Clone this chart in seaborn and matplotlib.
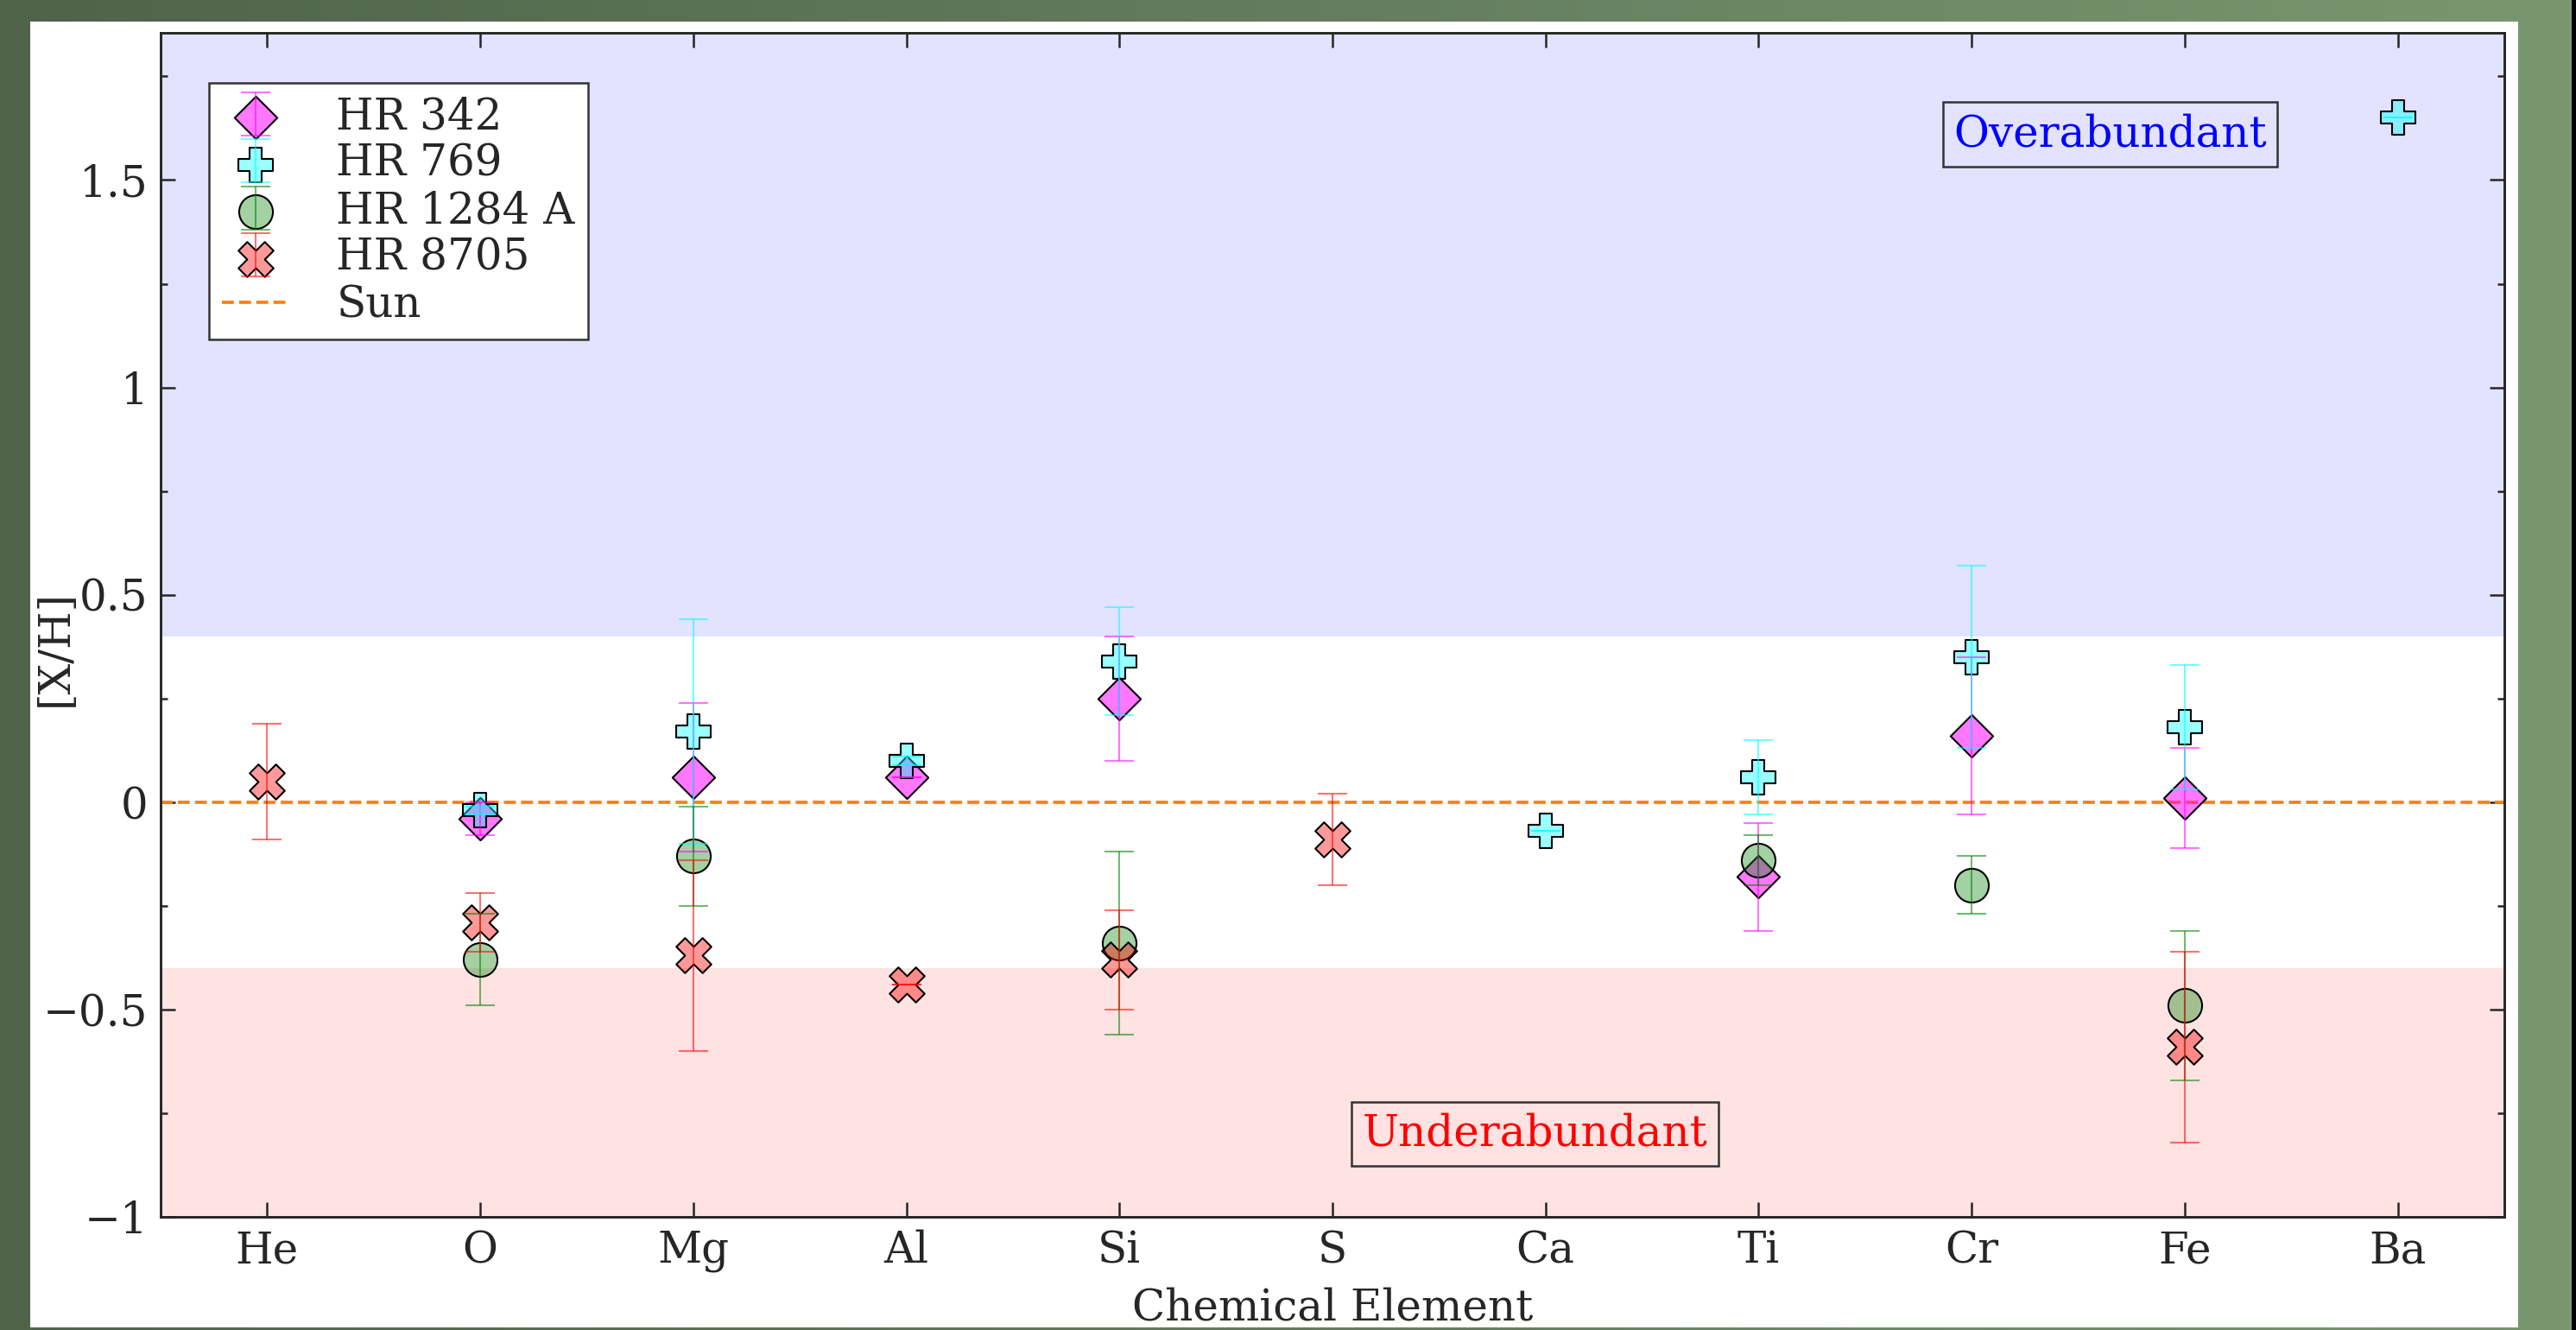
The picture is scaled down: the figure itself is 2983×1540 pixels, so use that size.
import matplotlib
matplotlib.use("Agg")
import matplotlib.pyplot as plt
import numpy as np
import pandas as pd
import seaborn as sns
from matplotlib.colors import to_rgba
from matplotlib.patches import Rectangle
from matplotlib.legend_handler import HandlerTuple

# %% Data

ELEMENTS = ["He", "O", "Mg", "Al", "Si", "S", "Ca", "Ti", "Cr", "Fe", "Ba"]

HR342_EL = ["O", "Mg", "Al", "Si", "Ti", "Cr", "Fe"]
HR342_VAL = [-0.04, 0.06, 0.06, 0.25, -0.18, 0.16, 0.01]
HR342_ERR = [0.04, 0.18, 0.0, 0.15, 0.13, 0.19, 0.12]

HR769_EL = ["O", "Mg", "Al", "Si", "Ca", "Ti", "Cr", "Fe", "Ba"]
HR769_VAL = [-0.02, 0.17, 0.10, 0.34, -0.07, 0.06, 0.35, 0.18, 1.65]
HR769_ERR = [0.01, 0.27, 0.01, 0.13, 0.0, 0.09, 0.22, 0.15, 0.0]

HR1284_EL = ["O", "Mg", "Si", "Ti", "Cr", "Fe"]
HR1284_VAL = [-0.38, -0.13, -0.34, -0.14, -0.20, -0.49]
HR1284_ERR = [0.11, 0.12, 0.22, 0.06, 0.07, 0.18]

HR8705_EL = ["He", "O", "Mg", "Al", "Si", "S", "Fe"]
HR8705_VAL = [0.05, -0.29, -0.37, -0.44, -0.38, -0.09, -0.59]
HR8705_ERR = [0.14, 0.07, 0.23, 0.0, 0.12, 0.11, 0.23]

STARS = ["HR 342", "HR 769", "HR 1284 A", "HR 8705"]

YTICKS = [-1, -0.5, 0, 0.5, 1, 1.5]
YTICK_LABELS = ["\u22121", "\u22120.5", "0", "0.5", "1", "1.5"]

frames = []
for star, els, vals, errs in [
    ("HR 342", HR342_EL, HR342_VAL, HR342_ERR),
    ("HR 769", HR769_EL, HR769_VAL, HR769_ERR),
    ("HR 1284 A", HR1284_EL, HR1284_VAL, HR1284_ERR),
    ("HR 8705", HR8705_EL, HR8705_VAL, HR8705_ERR),
]:
    frames.append(pd.DataFrame({"star": star, "element": els, "value": vals, "err": errs}))
df = pd.concat(frames, ignore_index=True)
df["pos"] = df["element"].map({e: i for i, e in enumerate(ELEMENTS)})

# %% Style

sns.set_style("ticks")
plt.rcParams["font.family"] = ["DejaVu Serif"]
plt.rcParams["font.size"] = 12

styles = {
    "HR 342": dict(marker="D", color="magenta", alpha=0.53, s=70),
    "HR 769": dict(marker="P", color="cyan", alpha=0.40, s=95),
    "HR 1284 A": dict(marker="o", color="green", alpha=0.36, s=88),
    "HR 8705": dict(marker="X", color="red", alpha=0.40, s=95),
}

W, H = 2983, 1540
fig = plt.figure(figsize=(W / 300, H / 300), dpi=300)

# green backdrop and white panel
bg = fig.add_axes([0, 0, 1, 1], zorder=-3)
gx = np.linspace(0, 1, 256)[None, :]
left_c = np.array([79, 99, 73]) / 255
right_c = np.array([120, 151, 112]) / 255
grad = left_c[None, None, :] * (1 - gx[..., None]) + right_c[None, None, :] * gx[..., None]
bg.imshow(np.repeat(grad, 4, axis=0), aspect="auto", extent=[0, 1, 0, 1])
bg.axis("off")
fig.add_artist(Rectangle((35 / W, 1 - 1537 / H), (2916 - 35) / W, (1537 - 25) / H,
                         transform=fig.transFigure, facecolor="white",
                         edgecolor="none", zorder=-2))
fig.add_artist(Rectangle((2978 / W, 0), 5 / W, 1, transform=fig.transFigure,
                         facecolor="black", edgecolor="none", zorder=-2))

ax = fig.add_axes([186 / W, 1 - 1409 / H, (2900 - 186) / W, (1409 - 38) / H])

ax.axhspan(0.4, 2.0, color="blue", alpha=0.11, lw=0, zorder=0)
ax.axhspan(-1.0, -0.4, color="red", alpha=0.11, lw=0, zorder=0)

sun = ax.axhline(0, color="tab:orange", ls="--", lw=0.9, zorder=1, label="Sun")

handles = []
for star in STARS:
    sub = df[df["star"] == star]
    st = styles[star]
    sns.scatterplot(data=sub, x="pos", y="value", ax=ax, marker=st["marker"],
                    s=st["s"], color=to_rgba(st["color"], st["alpha"]),
                    edgecolor="black", linewidth=0.5, legend=False, zorder=3)
    sc = ax.collections[-1]
    eb = ax.errorbar(sub["pos"], sub["value"], yerr=sub["err"], fmt="none",
                     ecolor=st["color"], elinewidth=0.5, capsize=4, capthick=0.5,
                     alpha=0.55, zorder=4)
    handles.append((sc, eb))

ax.set_xlim(-0.5, 10.5)
ax.set_ylim(-1, 1.855)
ax.set_xticks(range(len(ELEMENTS)))
ax.set_xticklabels(ELEMENTS)
ax.set_yticks(YTICKS)
ax.set_yticklabels(YTICK_LABELS)
ax.set_yticks(np.arange(-0.75, 1.85, 0.5), minor=True)
ax.tick_params(which="both", direction="in", top=True, right=True, labelsize=12)
ax.tick_params(which="major", length=4, width=0.6)
ax.tick_params(which="minor", length=2, width=0.6)
for sp in ax.spines.values():
    sp.set_linewidth(0.7)

ax.set_xlabel("Chemical Element", fontsize=12, labelpad=4)
ax.set_ylabel("[X/H]", fontsize=12)
ax.yaxis.set_label_coords(-0.036, 0.48)

ax.text(8.65, 1.61, "Overabundant", color="blue", fontsize=12, ha="center", va="center",
        bbox=dict(boxstyle="square,pad=0.25", facecolor="none", edgecolor="#333333", lw=0.6))
ax.text(5.95, -0.80, "Underabundant", color="red", fontsize=12, ha="center", va="center",
        bbox=dict(boxstyle="square,pad=0.25", facecolor="none", edgecolor="#333333", lw=0.6))

leg = ax.legend(handles + [sun], STARS + ["Sun"], loc="upper left",
                bbox_to_anchor=(0.0206, 0.9577), borderaxespad=0, fancybox=False,
                framealpha=1, edgecolor="#333333", fontsize=12, scatterpoints=1,
                handlelength=1.55, handletextpad=1.1, labelspacing=0.1, borderpad=0.3,
                handler_map={tuple: HandlerTuple(ndivide=1)})
leg.get_frame().set_linewidth(0.6)

fig.savefig("out.png", dpi=300)
